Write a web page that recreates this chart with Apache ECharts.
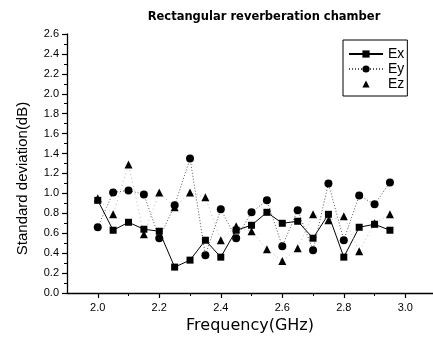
<!DOCTYPE html>
<html>
<head>
<meta charset="utf-8">
<script src="https://cdn.jsdelivr.net/npm/echarts@6/dist/echarts.min.js"></script>
<style>
html,body{margin:0;padding:0;background:#fff;}
#chart{width:433px;height:340px;}
</style>
</head>
<body>
<div id="chart"></div>
<script>
var frequencies = [2.0, 2.05, 2.1, 2.15, 2.2, 2.25, 2.3, 2.35, 2.4, 2.45, 2.5, 2.55, 2.6, 2.65, 2.7, 2.75, 2.8, 2.85, 2.9, 2.95];
var ex = [0.93, 0.63, 0.71, 0.64, 0.62, 0.26, 0.33, 0.53, 0.36, 0.63, 0.68, 0.81, 0.70, 0.72, 0.55, 0.79, 0.36, 0.66, 0.69, 0.63];
var ey = [0.66, 1.01, 1.03, 0.99, 0.55, 0.88, 1.35, 0.38, 0.84, 0.55, 0.81, 0.93, 0.47, 0.83, 0.43, 1.10, 0.53, 0.98, 0.89, 1.11];
var ez = [0.95, 0.79, 1.29, 0.59, 1.01, 0.86, 1.01, 0.96, 0.53, 0.67, 0.62, 0.44, 0.32, 0.45, 0.79, 0.73, 0.77, 0.42, 0.70, 0.79];
var xTickValues = [2.0, 2.2, 2.4, 2.6, 2.8, 3.0];
var xMinorTickValues = [2.1, 2.3, 2.5, 2.7, 2.9];
var seriesNames = ['Ex', 'Ey', 'Ez'];
var titleText = 'Rectangular reverberation chamber';
var xName = 'Frequency(GHz)';
var yName = 'Standard deviation(dB)';

function pairs(vals) {
  return frequencies.map(function (f, i) { return [f, vals[i]]; });
}

var font = 'Liberation Sans, Arial, sans-serif';
var wide = 'DejaVu Sans, sans-serif';
var chart = echarts.init(document.getElementById('chart'), null, {renderer: 'canvas'});
chart.setOption({
  animation: false,
  backgroundColor: '#fff',
  title: {
    text: titleText, left: 259, top: 6, textAlign: 'center',
    textStyle: {fontFamily: wide, fontWeight: 'bold', fontSize: 11.5, color: '#000'}
  },
  grid: {show: false, borderWidth: 0, left: 67, right: 0, top: 34, bottom: 47, containLabel: false},
  legend: {
    orient: 'vertical', left: 343, top: 40,
    borderColor: '#000', borderWidth: 1, padding: [7, 3, 5, 5],
    itemWidth: 34, itemHeight: 9, itemGap: 1,
    textStyle: {fontFamily: font, fontSize: 14, color: '#000'},
    data: [{name: 'Ex'}, {name: 'Ey'}, {name: 'Ez', lineStyle: {opacity: 0}}]
  },
  xAxis: [
    {
      type: 'value', min: 1.9, max: 3.09, position: 'bottom',
      axisLine: {show: true, onZero: false, lineStyle: {color: '#000', width: 1.3}},
      splitLine: {show: false},
      name: xName, nameLocation: 'middle', nameGap: 21,
      nameTextStyle: {fontFamily: wide, fontSize: 16, color: '#000', verticalAlign: 'top'},
      axisTick: {show: true, inside: false, length: 5, customValues: xTickValues, lineStyle: {color: '#000', width: 1.2}},
      axisLabel: {show: true, customValues: xTickValues, margin: 9, fontFamily: font, fontSize: 11, color: '#000',
        formatter: function (v) { return v.toFixed(1); }}
    },
    {
      type: 'value', min: 1.9, max: 3.09, position: 'bottom',
      axisLine: {show: false, onZero: false},
      splitLine: {show: false},
      axisTick: {show: true, inside: false, length: 3, customValues: xMinorTickValues, lineStyle: {color: '#000', width: 1}},
      axisLabel: {show: false, customValues: xMinorTickValues}
    }
  ],
  yAxis: {
    type: 'value', min: 0, max: 2.6, interval: 0.2,
    name: yName, nameLocation: 'middle', nameGap: 37,
    nameTextStyle: {fontFamily: font, fontSize: 15, color: '#000', padding: [0, 30, 0, 0]},
    axisLine: {show: true, onZero: false, lineStyle: {color: '#000', width: 1.3}},
    axisTick: {show: true, inside: false, length: 5, lineStyle: {color: '#000', width: 1.2}},
    minorTick: {show: true, splitNumber: 2, length: 3, lineStyle: {color: '#000'}},
    splitLine: {show: false},
    axisLabel: {margin: 8, fontFamily: font, fontSize: 11, color: '#000',
      formatter: function (v) { return v.toFixed(1); }}
  },
  series: [
    {
      name: seriesNames[0], type: 'line', data: pairs(ex),
      symbol: 'rect', symbolSize: 7,
      lineStyle: {color: '#000', width: 1, type: 'solid'},
      itemStyle: {color: '#000'}
    },
    {
      name: seriesNames[1], type: 'line', data: pairs(ey),
      symbol: 'circle', symbolSize: 8,
      lineStyle: {color: '#555', width: 1, type: [1, 2]},
      itemStyle: {color: '#000'}
    },
    {
      name: seriesNames[2], type: 'line', data: pairs(ez),
      symbol: 'triangle', symbolSize: 8, symbolKeepAspect: true,
      lineStyle: {color: '#bbb', width: 1, type: [1, 3]},
      itemStyle: {color: '#000'}
    }
  ]
});
</script>
</body>
</html>
